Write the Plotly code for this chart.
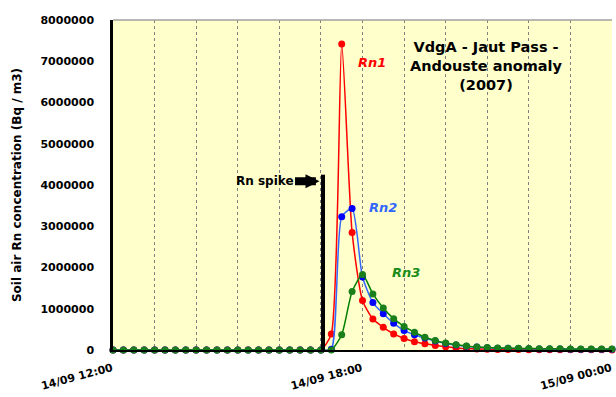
import plotly.graph_objects as go
import pandas as pd

# 15-minute readings, 14/09/2007 12:00 -> 15/09/2007 00:00
times = pd.date_range("2007-09-14 12:00", "2007-09-15 00:00", freq="15min")

zeros = [0] * 21  # 12:00 .. 17:00
rn1 = zeros + [390000, 7420000, 2850000, 1200000, 750000, 550000, 390000, 280000,
               200000, 150000, 110000, 80000, 50000, 35000, 25000, 20000, 15000,
               12000, 10000, 9000, 8000, 7000, 6000, 5000, 5000, 4000, 4000, 3000]
rn2 = zeros + [20000, 3230000, 3430000, 1770000, 1150000, 880000, 650000, 470000,
               370000, 290000, 220000, 160000, 120000, 90000, 70000, 55000, 45000,
               40000, 35000, 30000, 27000, 25000, 23000, 21000, 20000, 19000, 18000, 17000]
rn3 = zeros + [0, 370000, 1420000, 1830000, 1360000, 1020000, 760000, 570000,
               430000, 310000, 230000, 170000, 130000, 100000, 75000, 60000, 50000,
               45000, 40000, 35000, 32000, 30000, 28000, 26000, 25000, 24000, 23000, 22000]

series_names = ["Rn1", "Rn2", "Rn3"]
series_values = [rn1, rn2, rn3]
line_colors = ["#FF0000", "#3366FF", "#008000"]
marker_colors = ["#FF0000", "#0000FF", "#1A7F1A"]

tick_vals = ["2007-09-14 12:00", "2007-09-14 18:00", "2007-09-15 00:00"]
tick_text = ["14/09 12:00", "14/09 18:00", "15/09 00:00"]
y_ticks = [0, 1000000, 2000000, 3000000, 4000000, 5000000, 6000000, 7000000, 8000000]

spike_time = "2007-09-14 17:03"
spike_level = 4250000

FONT = "DejaVu Sans, Arial, sans-serif"
L, R, T, B = 113, 612, 19.5, 350


def px(x):
    return (x - L) / (R - L)


def py(y):
    return (B - y) / (B - T)


fig = go.Figure()
for name, vals, lc, mc in zip(series_names, series_values, line_colors, marker_colors):
    fig.add_trace(go.Scatter(
        x=times, y=vals, name=name, mode="lines+markers",
        line=dict(color=lc, width=1.5, shape="spline", smoothing=0.6),
        marker=dict(color=mc, size=7),
        showlegend=False, cliponaxis=False,
    ))

# spike bar
fig.add_shape(type="line", x0=spike_time, x1=spike_time, y0=0, y1=spike_level,
              xref="x", yref="y", line=dict(color="black", width=4))
# top border
fig.add_shape(type="line", x0=0, x1=1, y0=1, y1=1, xref="paper", yref="paper",
              line=dict(color="#A0A0A0", width=1.5))

annots = [
    dict(text="<b><i>Rn1</i></b>", x=372, y=62, color="#FF0000"),
    dict(text="<b><i>Rn2</i></b>", x=383, y=207, color="#3366FF"),
    dict(text="<b><i>Rn3</i></b>", x=406, y=272, color="#1A8C1A"),
]
for a in annots:
    fig.add_annotation(text=a["text"], xref="paper", yref="paper",
                       x=px(a["x"]), y=py(a["y"]), xanchor="center", yanchor="middle",
                       showarrow=False, font=dict(family=FONT, size=13, color=a["color"]))

fig.add_annotation(text="<b>VdgA - Jaut Pass -<br>Andouste anomaly<br>(2007)</b>",
                   xref="paper", yref="paper", x=px(486), y=py(66),
                   xanchor="center", yanchor="middle",
                   showarrow=False, align="center",
                   font=dict(family=FONT, size=14.5, color="black"))

fig.add_annotation(text="<b>Rn spike</b>", xref="x", yref="paper",
                   x="2007-09-14 16:58", y=py(181),
                   ax=-55, ay=0, axref="pixel", ayref="pixel",
                   showarrow=True, arrowhead=2, arrowsize=0.35, arrowwidth=8,
                   arrowcolor="black", standoff=0,
                   font=dict(family=FONT, size=12, color="black"))

fig.update_layout(
    width=616, height=397,
    margin=dict(l=L, r=616 - R, t=T, b=397 - B),
    paper_bgcolor="white", plot_bgcolor="#FFFFCC",
    font=dict(family=FONT, color="black"),
)
fig.update_xaxes(
    range=["2007-09-14 12:00", "2007-09-15 00:00"], automargin=False,
    tickmode="array", tickvals=tick_vals, ticktext=tick_text, tickangle=-15,
    tickfont=dict(family=FONT, size=11, color="black", weight="bold"),
    ticklabelstandoff=6, ticklabelshift=-1,
    showgrid=True, gridcolor="#808080", griddash="dot", gridwidth=1,
    minor=dict(dtick=3600000, tick0="2007-09-14 12:00", showgrid=True,
               gridcolor="#808080", griddash="dot", gridwidth=1),
    showline=True, linecolor="black", linewidth=1.5, ticks="", zeroline=False,
)
fig.update_yaxes(
    range=[0, 8000000], tickmode="array", tickvals=y_ticks, automargin=False,
    tickformat="d",
    tickfont=dict(family=FONT, size=11, color="black", weight="bold"),
    ticklabelstandoff=14,
    title=dict(text="<b>Soil air Rn concentration (Bq / m3)</b>",
               font=dict(family=FONT, size=12, color="black"), standoff=17),
    showgrid=False, showline=True, linecolor="black", linewidth=2.5,
    ticks="", zeroline=False,
)

fig.write_html("out.html", config={"displayModeBar": False},
               post_script="document.body.style.margin='0px';")
